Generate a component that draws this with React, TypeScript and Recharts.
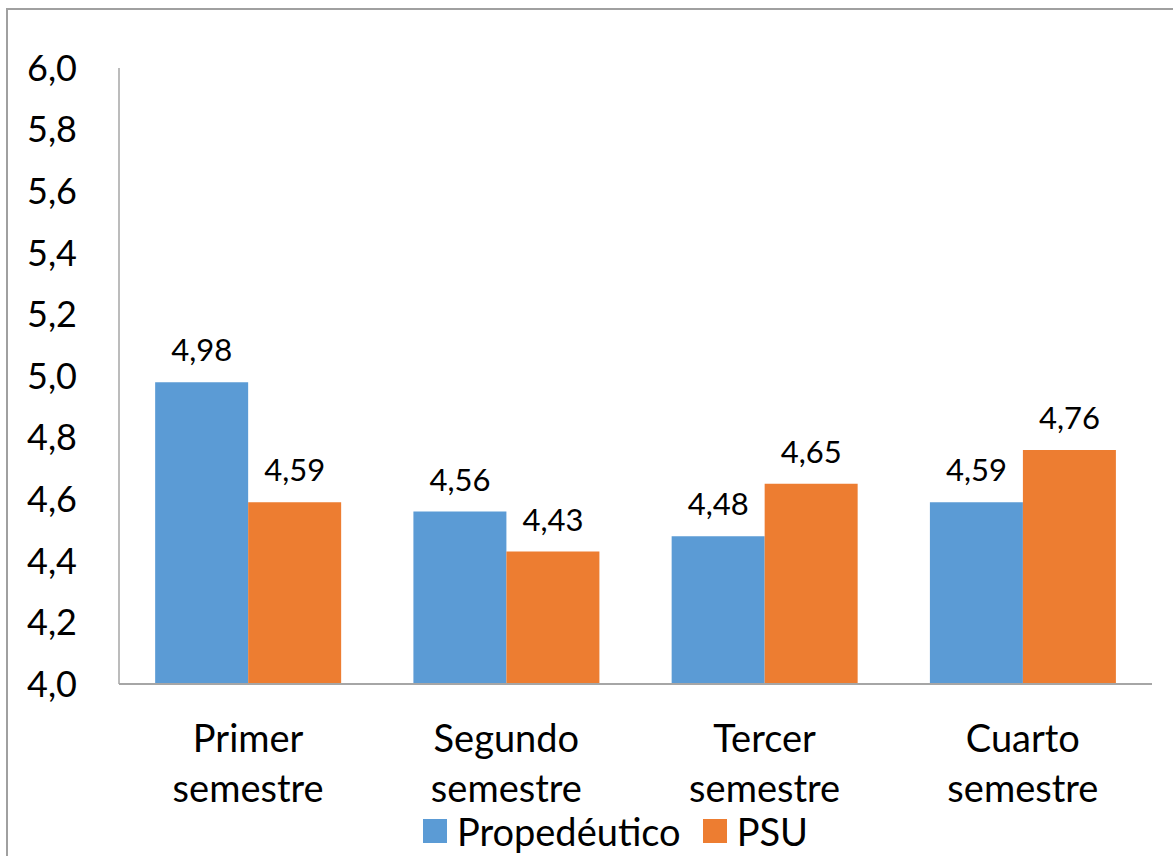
import React from 'react';
import { BarChart, Bar, XAxis, YAxis, LabelList, Legend } from 'recharts';

const categories = ['Primer semestre', 'Segundo semestre', 'Tercer semestre', 'Cuarto semestre'];
const propedeutico = [4.98, 4.56, 4.48, 4.59];
const psu = [4.59, 4.43, 4.65, 4.76];
const yTicks = [4.0, 4.2, 4.4, 4.6, 4.8, 5.0, 5.2, 5.4, 5.6, 5.8, 6.0];
const seriesNames = ['Propedéutico', 'PSU'];
const colors = ['#5B9BD5', '#ED7D31'];

const data = categories.map((c, i) => ({ name: c, prop: propedeutico[i], psu: psu[i] }));

const FONT = 'Lato, "Noto Sans", sans-serif';

const fmt = (v: number, d: number) => v.toFixed(d).replace('.', ',');

const CatTick = (props: any) => {
  const { x, y, payload } = props;
  const words = String(payload.value).split(' ');
  return (
    <g transform={`translate(${x},${y})`}>
      {words.map((w, i) => (
        <text key={i} x={0} y={60 + i * 50} textAnchor="middle" fill="#000" fontSize={38} fontFamily={FONT}>
          {w}
        </text>
      ))}
    </g>
  );
};

const LegendContent = () => (
  <div style={{ display: 'flex', justifyContent: 'center', alignItems: 'center', fontFamily: FONT, fontSize: 38, lineHeight: '36px', height: 36, color: '#000', paddingLeft: 58 }}>
    {seriesNames.map((n, i) => (
      <div key={n} style={{ display: 'flex', alignItems: 'center', marginRight: i === 0 ? 22 : 0 }}>
        <div style={{ width: 24, height: 24, background: colors[i], marginRight: 10 }} />
        <span>{n}</span>
      </div>
    ))}
  </div>
);

export default function App() {
  return (
    <div style={{ position: 'absolute', left: 0, top: 0, width: 1173, height: 856, background: '#fff', overflow: 'hidden' }}>
      <div style={{ position: 'absolute', left: 6, top: 8, width: 1200, height: 900, borderLeft: '2px solid #a0a0a0', borderTop: '2px solid #a0a0a0' }} />
      <BarChart width={1173} height={856} data={data} margin={{ top: 68, right: 21, left: 0, bottom: 106 }} barGap={0} barCategoryGap="14%">
        <YAxis
          domain={[4, 6]}
          ticks={yTicks}
          interval={0}
          width={119}
          tickLine={false}
          tickSize={0}
          tickMargin={42}
          axisLine={{ stroke: '#a6a6a6', strokeWidth: 1.5 }}
          tickFormatter={(v: number) => fmt(v, 1)}
          tick={{ fill: '#000', fontSize: 36, fontFamily: FONT }}
          allowDataOverflow
        />
        <XAxis dataKey="name" tickLine={false} axisLine={{ stroke: '#a6a6a6', strokeWidth: 2 }} tick={<CatTick />} interval={0} />
        <Legend verticalAlign="bottom" content={<LegendContent />} wrapperStyle={{ left: 0, width: 1173, top: 813 }} />
        <Bar dataKey="prop" name={seriesNames[0]} fill={colors[0]} isAnimationActive={false}>
          <LabelList dataKey="prop" position="top" offset={21} formatter={(v: any) => fmt(Number(v), 2)} style={{ fill: '#000', fontSize: 31, fontFamily: FONT }} />
        </Bar>
        <Bar dataKey="psu" name={seriesNames[1]} fill={colors[1]} isAnimationActive={false}>
          <LabelList dataKey="psu" position="top" offset={21} formatter={(v: any) => fmt(Number(v), 2)} style={{ fill: '#000', fontSize: 31, fontFamily: FONT }} />
        </Bar>
      </BarChart>
    </div>
  );
}
